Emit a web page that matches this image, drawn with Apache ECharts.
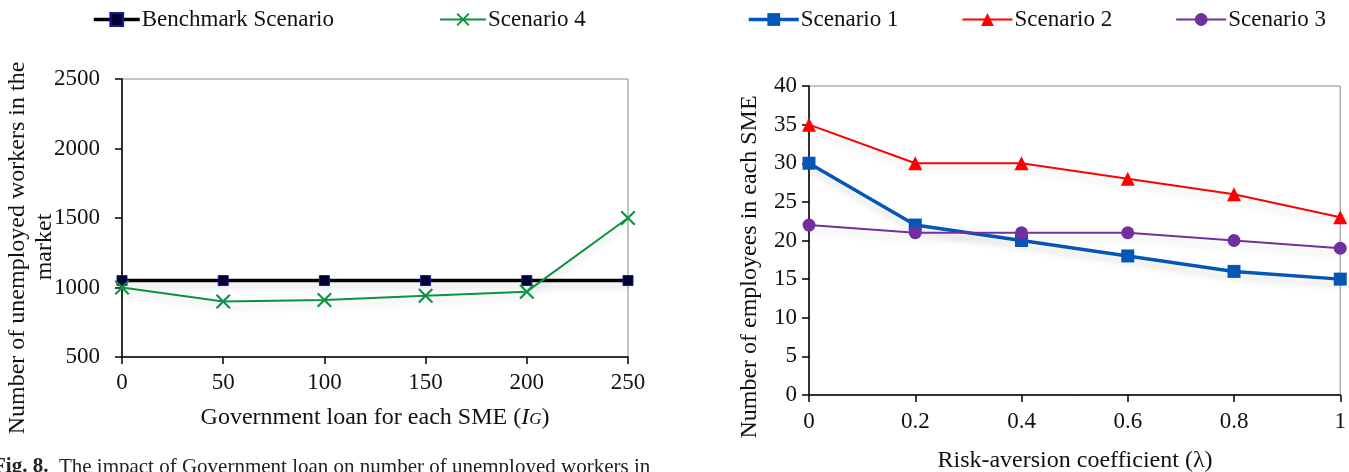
<!DOCTYPE html>
<html>
<head>
<meta charset="utf-8">
<script src="https://cdn.jsdelivr.net/npm/echarts@6/dist/echarts.min.js"></script>
<style>
  html, body { margin: 0; padding: 0; background: #fff; }
  #chart { width: 1349px; height: 472px; }
</style>
</head>
<body>
<div id="chart"></div>
<script>
// Left panel: unemployed workers vs. government loan
const loanValues = [0, 50, 100, 150, 200, 250];
const benchmarkScenario = [1050, 1050, 1050, 1050, 1050, 1050];
const scenario4 = [1000, 900, 910, 940, 970, 1500];

// Right panel: employees per SME vs. risk-aversion coefficient
const lambdaValues = [0, 0.2, 0.4, 0.6, 0.8, 1];
const scenario1 = [30, 22, 20, 18, 16, 15];
const scenario2 = [35, 30, 30, 28, 26, 23];
const scenario3 = [22, 21, 21, 21, 20, 19];

const FONT = '"Liberation Serif", "Times New Roman", serif';
const TICK_SIZE = 23;
const TITLE_SIZE = 24;

const pairs = (xs, ys) => xs.map((x, i) => [x, ys[i]]);
const crossPath = 'path://M1,0 L5,4 L9,0 L10,1 L6,5 L10,9 L9,10 L5,6 L1,10 L0,9 L4,5 L0,1 Z';
const plain = v => String(v);

const shadow = { shadowColor: 'rgba(0,0,0,0.13)', shadowBlur: 6, shadowOffsetY: 6 };

function valueAxis(extra, margin) {
  return Object.assign({
    type: 'value',
    axisLine: { show: true, onZero: false, lineStyle: { color: '#000', width: 1.5 } },
    axisTick: { show: true, inside: false, length: 7, lineStyle: { color: '#000', width: 1.5 } },
    splitLine: { show: false },
    axisLabel: { color: '#111', fontFamily: FONT, fontSize: TICK_SIZE, margin: margin, formatter: plain }
  }, extra);
}

const legendText = { fontFamily: FONT, fontSize: 23, color: '#111', padding: [0, 0, 0, -3] };

const chart = echarts.init(document.getElementById('chart'), null, { renderer: 'canvas' });

chart.setOption({
  animation: false,
  backgroundColor: '#fff',
  textStyle: { fontFamily: FONT },
  legend: [
    {
      left: 92, top: 8, padding: 0,
      itemWidth: 46, itemHeight: 16, itemGap: 105,
      textStyle: legendText,
      data: [
        { name: 'Benchmark Scenario', lineStyle: { width: 3.5 } },
        { name: 'Scenario 4', lineStyle: { width: 2 } }
      ]
    },
    {
      left: 747, top: 8, padding: 0,
      itemWidth: 50, itemHeight: 16, itemGap: 63,
      textStyle: legendText,
      data: [
        { name: 'Scenario 1', lineStyle: { width: 3.5 } },
        { name: 'Scenario 2', lineStyle: { width: 2 } },
        { name: 'Scenario 3', lineStyle: { width: 2 } }
      ]
    }
  ],
  grid: [
    { left: 122, top: 79, width: 506, height: 278, show: true, borderColor: '#8a8a8a', borderWidth: 1 },
    { left: 809, top: 86, width: 532, height: 309, show: true, borderColor: '#8a8a8a', borderWidth: 1 }
  ],
  xAxis: [
    valueAxis({ gridIndex: 0, min: 0, max: 250, interval: 50 }, 14),
    valueAxis({ gridIndex: 1, min: 0, max: 1, interval: 0.2 }, 15)
  ],
  yAxis: [
    valueAxis({ gridIndex: 0, min: 500, max: 2500, interval: 500 }, 22),
    valueAxis({ gridIndex: 1, min: 0, max: 40, interval: 5 }, 12)
  ],
  series: [
    {
      name: 'Benchmark Scenario', type: 'line', xAxisIndex: 0, yAxisIndex: 0,
      data: pairs(loanValues, benchmarkScenario),
      symbol: 'rect', symbolSize: 10,
      itemStyle: { color: '#000033', borderColor: '#1a1a99', borderWidth: 1 },
      lineStyle: Object.assign({ color: '#000', width: 3.5 }, shadow),
      z: 2
    },
    {
      name: 'Scenario 4', type: 'line', xAxisIndex: 0, yAxisIndex: 0,
      data: pairs(loanValues, scenario4),
      symbol: crossPath, symbolSize: 15,
      itemStyle: { color: '#0a943f' },
      lineStyle: Object.assign({ color: '#0a943f', width: 2 }, shadow),
      z: 3
    },
    {
      name: 'Scenario 1', type: 'line', xAxisIndex: 1, yAxisIndex: 1,
      data: pairs(lambdaValues, scenario1),
      symbol: 'rect', symbolSize: 13,
      itemStyle: { color: '#0656b8' },
      lineStyle: Object.assign({ color: '#0656b8', width: 3.5 }, shadow),
      z: 3
    },
    {
      name: 'Scenario 2', type: 'line', xAxisIndex: 1, yAxisIndex: 1,
      data: pairs(lambdaValues, scenario2),
      symbol: 'triangle', symbolSize: 14,
      itemStyle: { color: '#ff0000' },
      lineStyle: Object.assign({ color: '#ff0000', width: 2 }, shadow),
      z: 3
    },
    {
      name: 'Scenario 3', type: 'line', xAxisIndex: 1, yAxisIndex: 1,
      data: pairs(lambdaValues, scenario3),
      symbol: 'circle', symbolSize: 13,
      itemStyle: { color: '#7030a0' },
      lineStyle: Object.assign({ color: '#7030a0', width: 2 }, shadow),
      z: 3
    }
  ],
  graphic: [
    // Left y-axis title (two lines)
    {
      type: 'text', x: 18, y: 248, rotation: Math.PI / 2,
      style: { text: 'Number of unemployed workers in the', fontFamily: FONT, fontSize: TITLE_SIZE,
        fill: '#111', align: 'center', verticalAlign: 'middle' }
    },
    {
      type: 'text', x: 45, y: 247, rotation: Math.PI / 2,
      style: { text: 'market', fontFamily: FONT, fontSize: TITLE_SIZE,
        fill: '#111', align: 'center', verticalAlign: 'middle' }
    },
    // Left x-axis title
    {
      type: 'text', x: 375, y: 418,
      style: {
        text: 'Government loan for each SME ({i|I}{g|G})',
        rich: {
          i: { fontFamily: FONT, fontSize: TITLE_SIZE, fontStyle: 'italic', fill: '#111' },
          g: { fontFamily: FONT, fontSize: 17, fontStyle: 'italic', fill: '#111', padding: [4, 0, 0, 0] }
        },
        fontFamily: FONT, fontSize: TITLE_SIZE, fill: '#111', align: 'center', verticalAlign: 'middle'
      }
    },
    // Right y-axis title
    {
      type: 'text', x: 750, y: 267, rotation: Math.PI / 2,
      style: { text: 'Number of employees in each SME', fontFamily: FONT, fontSize: TITLE_SIZE,
        fill: '#111', align: 'center', verticalAlign: 'middle' }
    },
    // Right x-axis title
    {
      type: 'text', x: 1075, y: 461,
      style: { text: 'Risk-aversion coefficient (λ)', fontFamily: FONT, fontSize: TITLE_SIZE,
        fill: '#111', align: 'center', verticalAlign: 'middle' }
    },
    // Figure caption
    {
      type: 'text', x: -7, y: 467,
      style: {
        text: '{b|Fig. 8.}  The impact of Government loan on number of unemployed workers in',
        rich: { b: { fontFamily: FONT, fontSize: 21, fontWeight: 'bold', fill: '#222' } },
        fontFamily: FONT, fontSize: 21, fill: '#222', align: 'left', verticalAlign: 'middle'
      }
    }
  ]
});
</script>
</body>
</html>
